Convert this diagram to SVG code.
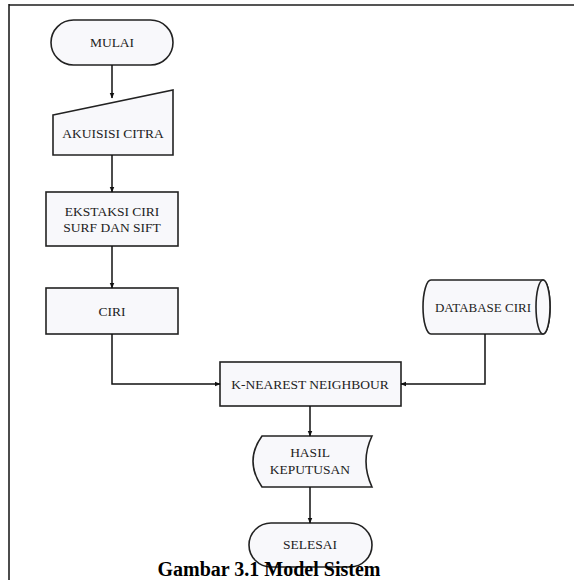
<svg xmlns="http://www.w3.org/2000/svg" width="574" height="580" viewBox="0 0 574 580">
<defs>
<marker id="ah" viewBox="0 0 10 10" refX="9" refY="5" markerWidth="6" markerHeight="6" orient="auto" markerUnits="userSpaceOnUse">
<path d="M0,1 L10,5 L0,9 z" fill="#111"/>
</marker>
</defs>
<style>
.s{fill:#f8f8fb;stroke:#222;stroke-width:1.6}
.t{font-family:"Liberation Serif","Times New Roman",serif;font-size:13.5px;fill:#222;text-anchor:middle}
.c{fill:none;stroke:#111;stroke-width:1.5}
</style>
<rect width="574" height="580" fill="#fff"/>
<line x1="9" y1="5" x2="574" y2="5" stroke="#555" stroke-width="2"/>
<line x1="9" y1="4" x2="9" y2="580" stroke="#111" stroke-width="1.5"/>
<g id="mulai">
<rect class="s" x="51" y="20" width="122" height="45" rx="22.5"/>
<text class="t" x="112" y="47">MULAI</text>
</g>
<g id="akuisisi">
<polygon class="s" points="53,115 173,90 173,155 53,155"/>
<text class="t" x="113" y="138">AKUISISI CITRA</text>
</g>
<g id="ekstraksi">
<rect class="s" x="46" y="192" width="132" height="54"/>
<text class="t" x="112" y="216">EKSTAKSI CIRI</text>
<text class="t" x="112" y="232">SURF DAN SIFT</text>
</g>
<g id="ciri">
<rect class="s" x="46" y="288" width="132" height="46"/>
<text class="t" x="112" y="316">CIRI</text>
</g>
<g id="database">
<path class="s" d="M431,280 L543,280 A7,27 0 0 1 543,334 L431,334 A8,27 0 0 1 431,280 z"/>
<ellipse class="s" cx="543" cy="307" rx="7" ry="27"/>
<text class="t" x="483" y="312" style="font-size:13px">DATABASE CIRI</text>
</g>
<g id="knn">
<rect class="s" x="220" y="362" width="181" height="44"/>
<text class="t" x="310" y="389">K-NEAREST NEIGHBOUR</text>
</g>
<g id="hasil">
<path class="s" d="M262,436 L372,436 Q360,461 372,487 L262,487 Q244,461 262,436 z"/>
<text class="t" x="310" y="457">HASIL</text>
<text class="t" x="310" y="474">KEPUTUSAN</text>
</g>
<g id="selesai">
<rect class="s" x="249" y="523" width="123" height="44" rx="22"/>
<text class="t" x="310" y="549">SELESAI</text>
</g>
<g id="connectors">
<line class="c" x1="112" y1="65" x2="112" y2="98" marker-end="url(#ah)"/>
<line class="c" x1="112" y1="155" x2="112" y2="192" marker-end="url(#ah)"/>
<line class="c" x1="112" y1="246" x2="112" y2="288" marker-end="url(#ah)"/>
<polyline class="c" points="112,334 112,384 220,384" marker-end="url(#ah)"/>
<polyline class="c" points="485,334 485,384 401,384" marker-end="url(#ah)"/>
<line class="c" x1="310" y1="406" x2="310" y2="436" marker-end="url(#ah)"/>
<line class="c" x1="310" y1="487" x2="310" y2="523" marker-end="url(#ah)"/>
</g>
<text x="269" y="576" font-family="Liberation Serif,'Times New Roman',serif" font-size="20" font-weight="bold" text-anchor="middle" fill="#000">Gambar 3.1 Model Sistem</text>
</svg>
